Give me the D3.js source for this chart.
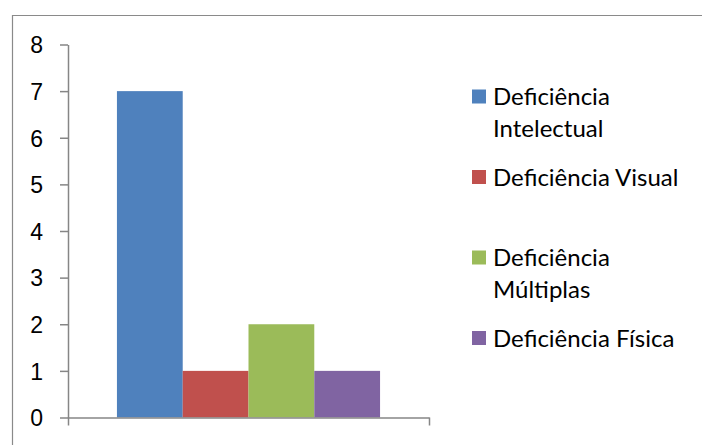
<!DOCTYPE html>
<html>
<head>
<meta charset="utf-8">
<script src="https://cdn.jsdelivr.net/npm/d3@7"></script>
<style>
  body { margin: 0; background: #fff; }
  svg { display: block; font-family: Lato, "Open Sans", sans-serif; }
</style>
</head>
<body>
<div class="chart"></div>
<script>
// dados
var categories = [""];
var series = ["Deficiência Intelectual", "Deficiência Visual", "Deficiência Múltiplas", "Deficiência Física"];
var values = [7, 1, 2, 1];
var colors = ["#4f81bd", "#c0504d", "#9bbb59", "#8064a2"];
var yTicks = [0, 1, 2, 3, 4, 5, 6, 7, 8];

// tela
var width = 702, height = 445;
var svg = d3.select(".chart").append("svg")
            .attr("width", width)
            .attr("height", height);

// moldura (cortada à direita e embaixo)
svg.append("path")
   .attr("d", "M12.5," + height + "V15.5H" + width)
   .attr("fill", "none")
   .attr("stroke", "#8a8a8a")
   .attr("stroke-width", 1.2);

var plot = {left: 68, right: 429, top: 44.5, bottom: 417.5};

// escalas
var yScale = d3.scaleLinear().domain([0, 8]).range([plot.bottom, plot.top]);
var groupScale = d3.scaleBand().domain(categories).range([plot.left, plot.right]).paddingOuter(0.186).paddingInner(0);
var barScale = d3.scaleBand().domain(series).range([0, groupScale.bandwidth()]);
var edgeScale = d3.scaleLinear().domain([0, 1]).range([plot.left, plot.right]);

// barras
svg.selectAll("rect.bar").data(values).enter().append("rect")
   .attr("class", "bar")
   .attr("x", function(d, i) { return groupScale(categories[0]) + barScale(series[i]); })
   .attr("width", barScale.bandwidth())
   .attr("y", function(d) { return yScale(d); })
   .attr("height", function(d) { return yScale(0) - yScale(d); })
   .attr("fill", function(d, i) { return colors[i]; });

// eixos
var yAxis = d3.axisLeft(yScale).tickValues(yTicks).tickFormat(d3.format("d"))
              .tickSize(8).tickSizeOuter(0).tickPadding(17);
var gy = svg.append("g").attr("transform", "translate(" + plot.left + ",0)").call(yAxis);
gy.selectAll("text").style("font-size", "23px").attr("fill", "#000").attr("dy", "0.36em");

var xAxis = d3.axisBottom(edgeScale).tickValues([0, 1]).tickFormat("").tickSize(8).tickSizeOuter(0);
var gx = svg.append("g").attr("transform", "translate(0," + plot.bottom + ")").call(xAxis);

svg.selectAll(".domain, .tick line").attr("stroke", "#868686").attr("stroke-width", 1.5);

// legenda
var legendY = d3.scalePoint().domain(series).range([96.5, 338]);
var legend = svg.selectAll(".legend").data(series).enter().append("g")
                .attr("class", "legend")
                .attr("transform", function(d) { return "translate(472," + legendY(d) + ")"; });

legend.append("rect")
      .attr("x", 0).attr("y", -7).attr("width", 14).attr("height", 14)
      .attr("fill", function(d, i) { return colors[i]; });

legend.append("text")
      .style("font-size", "24px")
      .each(function(d) {
          var text = d3.select(this);
          var words = d.split(" ");
          var line = [];
          var tspan = text.append("tspan").attr("x", 21).attr("dy", "0.36em");
          words.forEach(function(w) {
              line.push(w);
              tspan.text(line.join(" "));
              if (tspan.node().getComputedTextLength() > 205 && line.length > 1) {
                  line.pop();
                  tspan.text(line.join(" "));
                  line = [w];
                  tspan = text.append("tspan").attr("x", 21).attr("dy", "32px").text(w);
              }
          });
      });
</script>
</body>
</html>
